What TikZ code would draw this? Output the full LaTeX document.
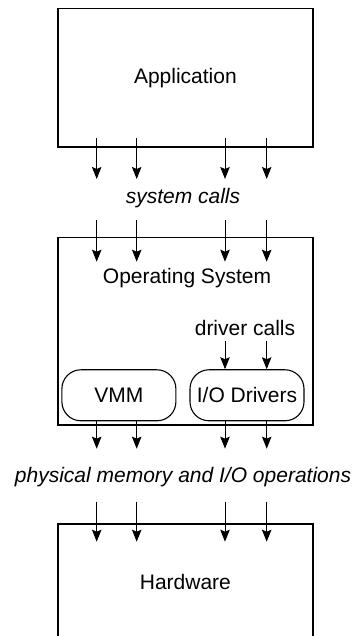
\documentclass[tikz,border=0pt]{standalone}
\usepackage{fontspec}
\setmainfont{Liberation Sans}
\usepackage{tikz}
\usetikzlibrary{arrows.meta, positioning, calc}

\begin{document}
\begin{tikzpicture}[
  x=1pt, y=1pt,
  font=\fontsize{21}{25}\selectfont,
  >={Stealth[length=12pt,width=9.5pt,inset=2pt]},
  layerbox/.style={rectangle, draw=black, line width=1.4pt,
        minimum width=255pt, inner sep=0pt},
  modbox/.style={rectangle, draw=black, line width=1.1pt, rounded corners=19pt,
        minimum width=114pt, minimum height=51pt, inner sep=0pt},
  ann/.style={font=\fontsize{21}{25}\selectfont\itshape},
  flow/.style={->, black, line width=1pt},
]
\useasboundingbox (0,0) rectangle (358,636);

% --- layers ---
\node[layerbox, minimum height=138.5pt] (app) at (185.4,558.2) {Application};
\node[layerbox, minimum height=187.3pt] (os)  at (185.4,304.7) {};
\node[layerbox, minimum height=116pt]   (hw)  at (185.4,54)    {Hardware};

\node (ostitle) at (187,358) {Operating System};
\node[modbox] (vmm) at (118.9,240.7) {VMM};
\node[modbox] (iod) at (247,240.7)   {I/O Drivers};

% --- labels between layers ---
\node[ann] (syscalls) at (183,438)   {system calls};
\node[ann] (physops)  at (183,159.3) {physical memory and I/O operations};
\node (drvcalls) at (245,308) {driver calls};

% --- arrows: application to system calls, system calls to OS ---
\foreach \x in {96.7,136.7,225,266.7}{
  \draw[flow] (\x,498) -- (\x,457);
  \draw[flow] (\x,416) -- (\x,374.3);
}
% --- driver calls into I/O drivers ---
\foreach \dx in {-22,19.7}{
  \draw[flow] ($(iod.north)+(\dx,28.3)$) -- ([xshift=\dx]iod.north);
}
% --- modules down to operations ---
\foreach \dx in {-22.2,17.8}{
  \draw[flow] ([xshift=\dx]vmm.south) -- ++(0,-27.3);
}
\foreach \dx in {-22,19.7}{
  \draw[flow] ([xshift=\dx]iod.south) -- ++(0,-27.3);
}
% --- operations into hardware ---
\foreach \x in {96.7,136.7,225,266.7}{
  \draw[flow] (\x,134.3) -- (\x,94.3);
}

\end{tikzpicture}
\end{document}
